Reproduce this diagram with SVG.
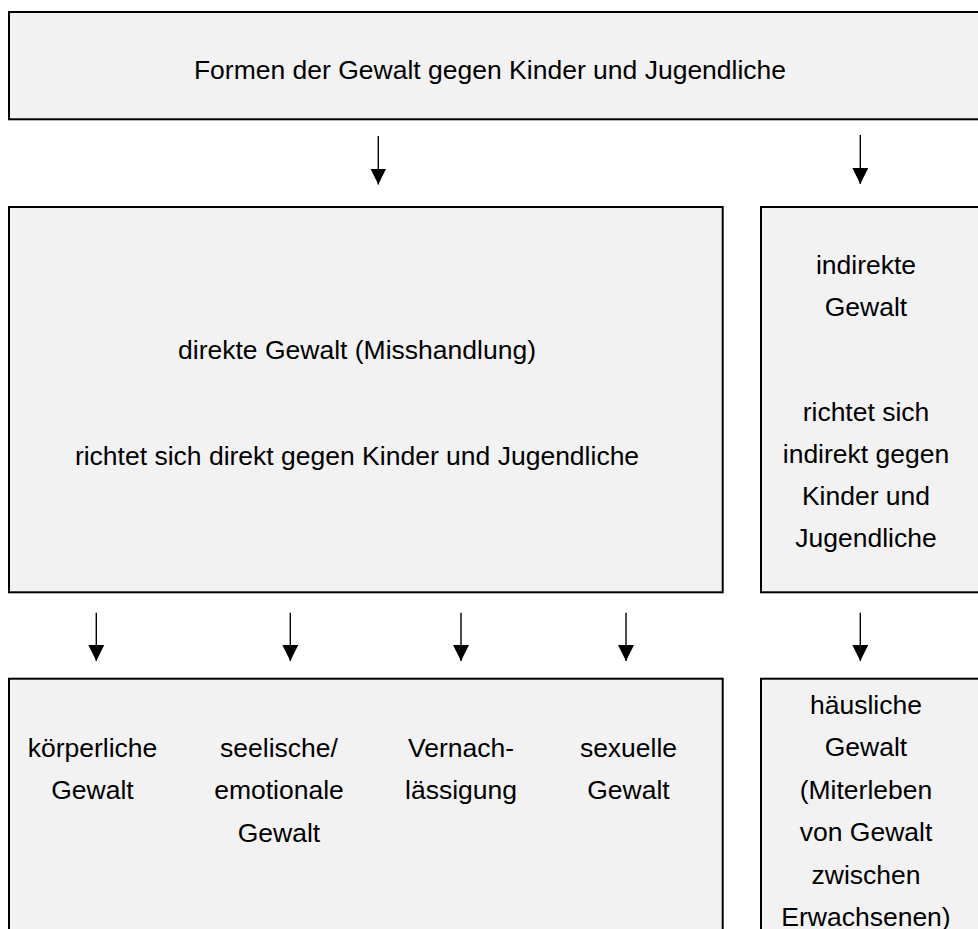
<svg xmlns="http://www.w3.org/2000/svg" width="978" height="929" viewBox="0 0 978 929">
<style>
.box{fill:#f2f2f2;stroke:#000;stroke-width:2}
text{font-family:"Liberation Sans",Arial,sans-serif;font-size:26.5px;fill:#000;text-anchor:middle}
.conn line{stroke:#000;stroke-width:1.4}
</style>
<defs>
<marker id="ah" markerUnits="userSpaceOnUse" markerWidth="16" markerHeight="16" refX="16" refY="8" orient="auto" viewBox="0 0 16 16">
<path d="M0,0 L16,8 L0,16 Z" fill="#000"/>
</marker>
</defs>
<rect width="978" height="929" fill="#fff"/>
<g id="top">
<rect class="box" x="9" y="12" width="990" height="107.3"/>
<text x="490" y="79">Formen der Gewalt gegen Kinder und Jugendliche</text>
</g>
<g id="direkt">
<rect class="box" x="9" y="207" width="713.7" height="385.3"/>
<text x="357" y="359">direkte Gewalt (Misshandlung)</text>
<text x="357" y="465">richtet sich direkt gegen Kinder und Jugendliche</text>
</g>
<g id="indirekt">
<rect class="box" x="761" y="207" width="240" height="385.3"/>
<text x="866" y="274">indirekte</text>
<text x="866" y="316">Gewalt</text>
<text x="866" y="421">richtet sich</text>
<text x="866" y="463">indirekt gegen</text>
<text x="866" y="505">Kinder und</text>
<text x="866" y="547">Jugendliche</text>
</g>
<g id="formen">
<rect class="box" x="9" y="678.7" width="713.7" height="280"/>
<text x="92.5" y="757">körperliche</text>
<text x="92.5" y="799">Gewalt</text>
<text x="279" y="757">seelische/</text>
<text x="279" y="799">emotionale</text>
<text x="279" y="841.5">Gewalt</text>
<text x="461" y="757">Vernach-</text>
<text x="461" y="799">lässigung</text>
<text x="628.5" y="757">sexuelle</text>
<text x="628.5" y="799">Gewalt</text>
</g>
<g id="haeuslich">
<rect class="box" x="761" y="678.7" width="240" height="280"/>
<text x="866" y="713.5">häusliche</text>
<text x="866" y="756">Gewalt</text>
<text x="866" y="798.5">(Miterleben</text>
<text x="866" y="841">von Gewalt</text>
<text x="866" y="883.5">zwischen</text>
<text x="866" y="926">Erwachsenen)</text>
</g>
<g id="connectors" class="conn">
<line x1="378.3" y1="136" x2="378.3" y2="184.5" marker-end="url(#ah)"/>
<line x1="860.3" y1="135" x2="860.3" y2="184" marker-end="url(#ah)"/>
<line x1="96.3" y1="612.7" x2="96.3" y2="661" marker-end="url(#ah)"/>
<line x1="290.3" y1="612.7" x2="290.3" y2="661" marker-end="url(#ah)"/>
<line x1="461" y1="612.7" x2="461" y2="661" marker-end="url(#ah)"/>
<line x1="626" y1="612.7" x2="626" y2="661" marker-end="url(#ah)"/>
<line x1="860.3" y1="612.7" x2="860.3" y2="661" marker-end="url(#ah)"/>
</g>
</svg>
